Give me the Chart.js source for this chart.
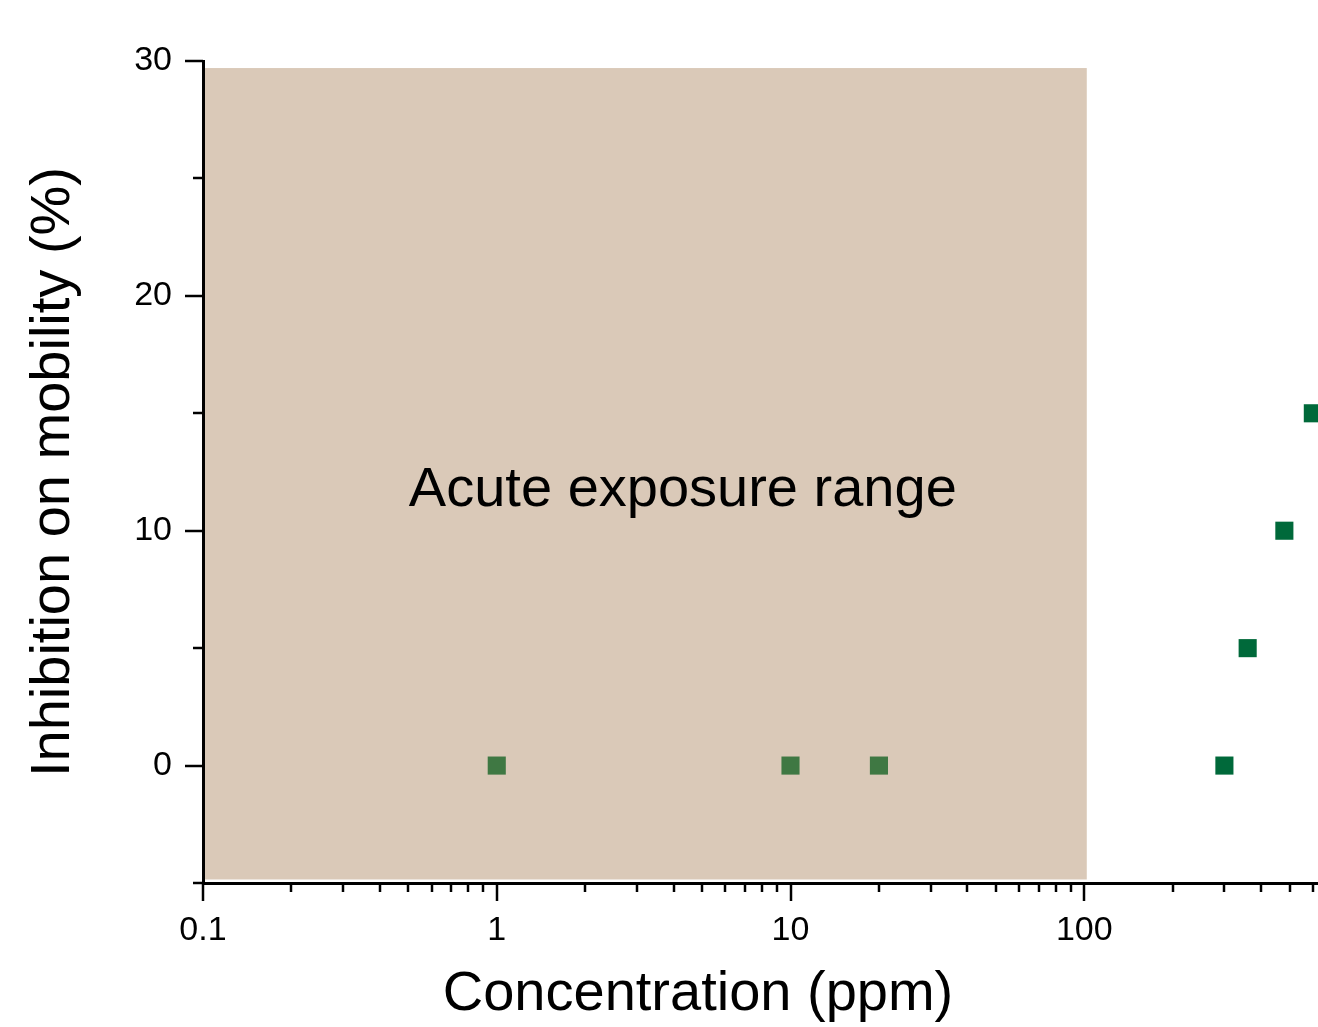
<!DOCTYPE html>
<html>
<head>
<meta charset="utf-8">
<title>Inhibition on mobility vs concentration</title>
<script src="https://cdn.jsdelivr.net/npm/chart.js@4.4.1/dist/chart.umd.min.js"></script>
<style>
  html, body { margin: 0; padding: 0; background: #fff; overflow: hidden; }
  #wrap { width: 1450px; height: 1027px; }
</style>
</head>
<body>
<div id="wrap"><canvas id="chart" width="1450" height="1027"></canvas></div>
<script>
// concentrations (ppm) and inhibition (%)
const acuteConc = [1, 10, 20];
const acuteInhib = [0, 0, 0];
const highConc = [300, 360, 480, 600];
const highInhib = [0, 5, 10, 15];

// axis ranges and labelled ticks
const xMin = 0.1, xMax = 1000;
const yMin = -5, yMax = 30;
const xDecades = [0.1, 1, 10, 100, 1000];
const yMajor = [0, 10, 20, 30];
const yMinor = [-5, 5, 15, 25];

// shaded band: [x from, x to, y from, y to] in data units
const acuteBand = [0.1, 102, -4.85, 29.7];
const bandLabel = 'Acute exposure range';
const bandLabelAt = [4.3, 11.7];

const FONT = '"Liberation Sans", Arial, sans-serif';

// log ticks 0.1, 0.2 ... 0.9, 1, 2 ... 1000
const xTickValues = [];
xDecades.slice(0, -1).forEach(d => {
    for (let k = 1; k <= 9; k++) xTickValues.push(+(d * k).toPrecision(6));
});
xTickValues.push(xDecades[xDecades.length - 1]);
const yTickValues = [...yMajor, ...yMinor].sort((a, b) => a - b);

const toPoints = (xs, ys) => xs.map((x, i) => ({ x: x, y: ys[i] }));

const decor = {
    id: 'decor',
    beforeDraw(chart) {
        const { ctx, chartArea, scales: { x, y } } = chart;
        const left = x.getPixelForValue(acuteBand[0]);
        const right = x.getPixelForValue(acuteBand[1]);
        const bottom = y.getPixelForValue(acuteBand[2]);
        const top = y.getPixelForValue(acuteBand[3]);
        ctx.save();
        ctx.beginPath();
        ctx.rect(chartArea.left, chartArea.top, chartArea.width, chartArea.height);
        ctx.clip();
        ctx.fillStyle = '#DAC9B8';
        ctx.fillRect(left + 2, top, right - left - 2, bottom - top);
        ctx.restore();
    },
    afterDraw(chart) {
        const { ctx, chartArea, scales: { x, y } } = chart;
        ctx.save();
        ctx.strokeStyle = '#000';
        ctx.lineWidth = 2.5;
        // tick marks, major ones longer
        x.ticks.forEach(t => {
            const px = Math.round(x.getPixelForValue(t.value));
            const len = xDecades.includes(t.value) ? 18 : 9;
            ctx.beginPath();
            ctx.moveTo(px, chartArea.bottom);
            ctx.lineTo(px, chartArea.bottom + len);
            ctx.stroke();
        });
        y.ticks.forEach(t => {
            const py = Math.round(y.getPixelForValue(t.value));
            const len = yMajor.includes(t.value) ? 18 : 10;
            ctx.beginPath();
            ctx.moveTo(chartArea.left, py);
            ctx.lineTo(chartArea.left - len, py);
            ctx.stroke();
        });

        ctx.fillStyle = '#000';
        ctx.textAlign = 'center';
        ctx.textBaseline = 'middle';
        ctx.font = '56px ' + FONT;
        ctx.fillText(bandLabel, x.getPixelForValue(bandLabelAt[0]), y.getPixelForValue(bandLabelAt[1]));
        // x axis title sits left of the axis centre in the original
        ctx.fillText('Concentration (ppm)', 698, 995);
        ctx.restore();
    }
};

new Chart(document.getElementById('chart'), {
    type: 'scatter',
    data: {
        datasets: [
            {
                label: 'Acute range',
                data: toPoints(acuteConc, acuteInhib),
                backgroundColor: '#3F7843',
                borderColor: '#3F7843'
            },
            {
                label: 'Higher concentrations',
                data: toPoints(highConc, highInhib),
                backgroundColor: '#00693A',
                borderColor: '#00693A'
            }
        ]
    },
    options: {
        responsive: false,
        animation: false,
        layout: { padding: { left: 0, top: 61, right: 72, bottom: 0 } },
        plugins: {
            legend: { display: false },
            tooltip: { enabled: false }
        },
        elements: {
            point: { pointStyle: 'rect', radius: 12.8, borderWidth: 0 }
        },
        scales: {
            x: {
                type: 'logarithmic',
                min: xMin,
                max: xMax,
                afterBuildTicks: scale => {
                    scale.ticks = xTickValues.map(v => ({ value: v }));
                },
                afterFit: scale => { scale.height = 144; },
                ticks: {
                    autoSkip: false,
                    maxRotation: 0,
                    padding: 19,
                    color: '#000',
                    font: { family: FONT, size: 34 },
                    callback: v => xDecades.includes(v) ? String(v) : ''
                },
                grid: { display: false },
                border: { display: true, color: '#000', width: 3 }
            },
            y: {
                type: 'linear',
                min: yMin,
                max: yMax,
                afterBuildTicks: scale => {
                    scale.ticks = yTickValues.map(v => ({ value: v }));
                },
                afterFit: scale => { scale.width = 203; },
                ticks: {
                    padding: 23,
                    color: '#000',
                    font: { family: FONT, size: 34 },
                    callback: v => yMajor.includes(v) ? String(v) : ''
                },
                grid: { display: false },
                border: { display: true, color: '#000', width: 3 },
                title: {
                    display: true,
                    text: 'Inhibition on mobility (%)',
                    color: '#000',
                    font: { family: FONT, size: 56, lineHeight: 1 },
                    padding: { top: 26, bottom: 0 }
                }
            }
        }
    },
    plugins: [decor]
});
</script>
</body>
</html>
